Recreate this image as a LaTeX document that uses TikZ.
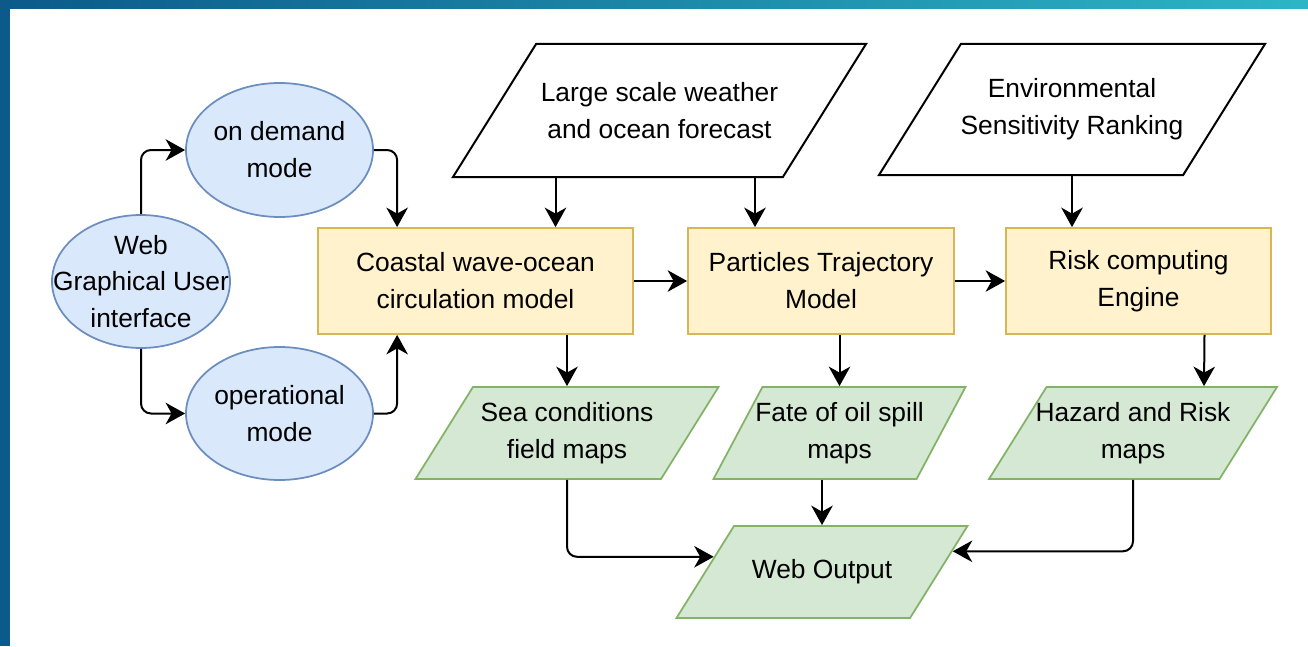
\documentclass[tikz,border=0pt]{standalone}
\usepackage{fontspec}
\setmainfont{Liberation Sans}
\usetikzlibrary{shapes.geometric,arrows.meta,calc}

\definecolor{bandblue}{HTML}{0B5A8A}
\definecolor{bandteal}{HTML}{2DB5C6}
\definecolor{ovalfill}{HTML}{DAE8FC}
\definecolor{ovalline}{HTML}{6C8EBF}
\definecolor{modelfill}{HTML}{FFF2CC}
\definecolor{modelline}{HTML}{D6B656}
\definecolor{mapfill}{HTML}{D5E8D4}
\definecolor{mapline}{HTML}{82B366}

\tikzset{
  oval/.style={ellipse, draw=ovalline, fill=ovalfill, line width=0.35mm,
    inner sep=0pt, label={[align=center]center:#1}},
  model/.style={rectangle, draw=modelline, fill=modelfill, line width=0.35mm,
    minimum height=21.2mm, align=center},
  dataio/.style={trapezium, trapezium left angle=58, trapezium right angle=122,
    trapezium stretches body, draw, fill=white, line width=0.4mm,
    inner xsep=0pt, inner ysep=13.3mm, label={[align=center]center:#1}},
  mapio/.style={dataio={#1}, draw=mapline, fill=mapfill, line width=0.35mm,
    inner ysep=9.2mm},
  flow/.style={-{Stealth[length=3.9mm, width=4.3mm, inset=1.2mm]},
    line width=0.4mm, rounded corners=2mm},
}

\begin{document}
\begin{tikzpicture}[x=0.2mm, y=-0.2mm, font=\fontsize{15}{21}\selectfont]
  \useasboundingbox (0,0) rectangle (1308,646);
  % Rahmen oben und links
  \shade[left color=bandblue, right color=bandteal] (0,0) rectangle (1308,8);
  \fill[bandblue] (0,0) rectangle (10,646);

  % Bedienung
  \node[oval={Web\\Graphical User\\interface}, minimum width=35.6mm,
    minimum height=26.6mm] (gui) at (141,281.5) {};
  \node[oval={on demand\\mode}, minimum width=37.4mm,
    minimum height=26.8mm] (demand) at (279.5,150) {};
  \node[oval={operational\\mode}, minimum width=37.4mm,
    minimum height=26.6mm] (oper) at (279.5,413.5) {};

  % Eingangsdaten
  \node[dataio={Large scale weather\\and ocean forecast}, minimum width=82.6mm]
    (weather) at (659.5,110.5) {};
  \node[dataio={Environmental\\Sensitivity Ranking}, minimum width=77.2mm,
    inner ysep=13.1mm] (ranking) at (1072,109.5) {};

  % Modelle
  \node[model, minimum width=63mm] (coast) at (475.5,281)
    {Coastal wave-ocean\\circulation model};
  \node[model, minimum width=53.2mm] (particles) at (821,281)
    {Particles Trajectory\\Model};
  \node[model, minimum width=53mm] (risk) at (1138.5,281)
    {Risk computing\\Engine};

  % Karten
  \node[mapio={Sea conditions\\field maps}, minimum width=60.6mm] (sea) at (567,433) {};
  \node[mapio={Fate of oil spill\\maps}, trapezium left angle=62,
    trapezium right angle=118, minimum width=50.4mm] (fate) at (839.5,433) {};
  \node[mapio={Hazard and Risk\\maps}, minimum width=57.6mm] (hazard) at (1133,433) {};
  \node[mapio={Web Output}, minimum width=58.2mm] (web) at (822,572) {};

  % Verbindungen
  \draw[flow] (gui.north) |- (demand.west);
  \draw[flow] (gui.south) |- (oper.west);
  \draw[flow] (demand.east) -| ($(coast.north west)+(80,0)$);
  \draw[flow] (oper.east) -| ($(coast.south west)+(80,0)$);
  \draw[flow] ($(coast.north |- weather.south)+(80,0)$) -- ($(coast.north)+(80,0)$);
  \draw[flow] ($(particles.north |- weather.south)+(-66,0)$) -- ($(particles.north)+(-66,0)$);
  \draw[flow] (ranking.south) -- (ranking.south |- risk.north);
  \draw[flow] (coast.east) -- (particles.west);
  \draw[flow] (particles.east) -- (risk.west);
  \draw[flow] (sea.north |- coast.south) -- (sea.north);
  \draw[flow] (fate.north |- particles.south) -- (fate.north);
  \draw[flow] ($(risk.south)+(66,0)$) -- ($(hazard.north)+(71,0)$);
  \draw[flow] (sea.south) |- (web.172);
  \draw[flow] (web.north |- fate.south) -- (web.north);
  \draw[flow] (hazard.south) |- (web.9);
\end{tikzpicture}
\end{document}
